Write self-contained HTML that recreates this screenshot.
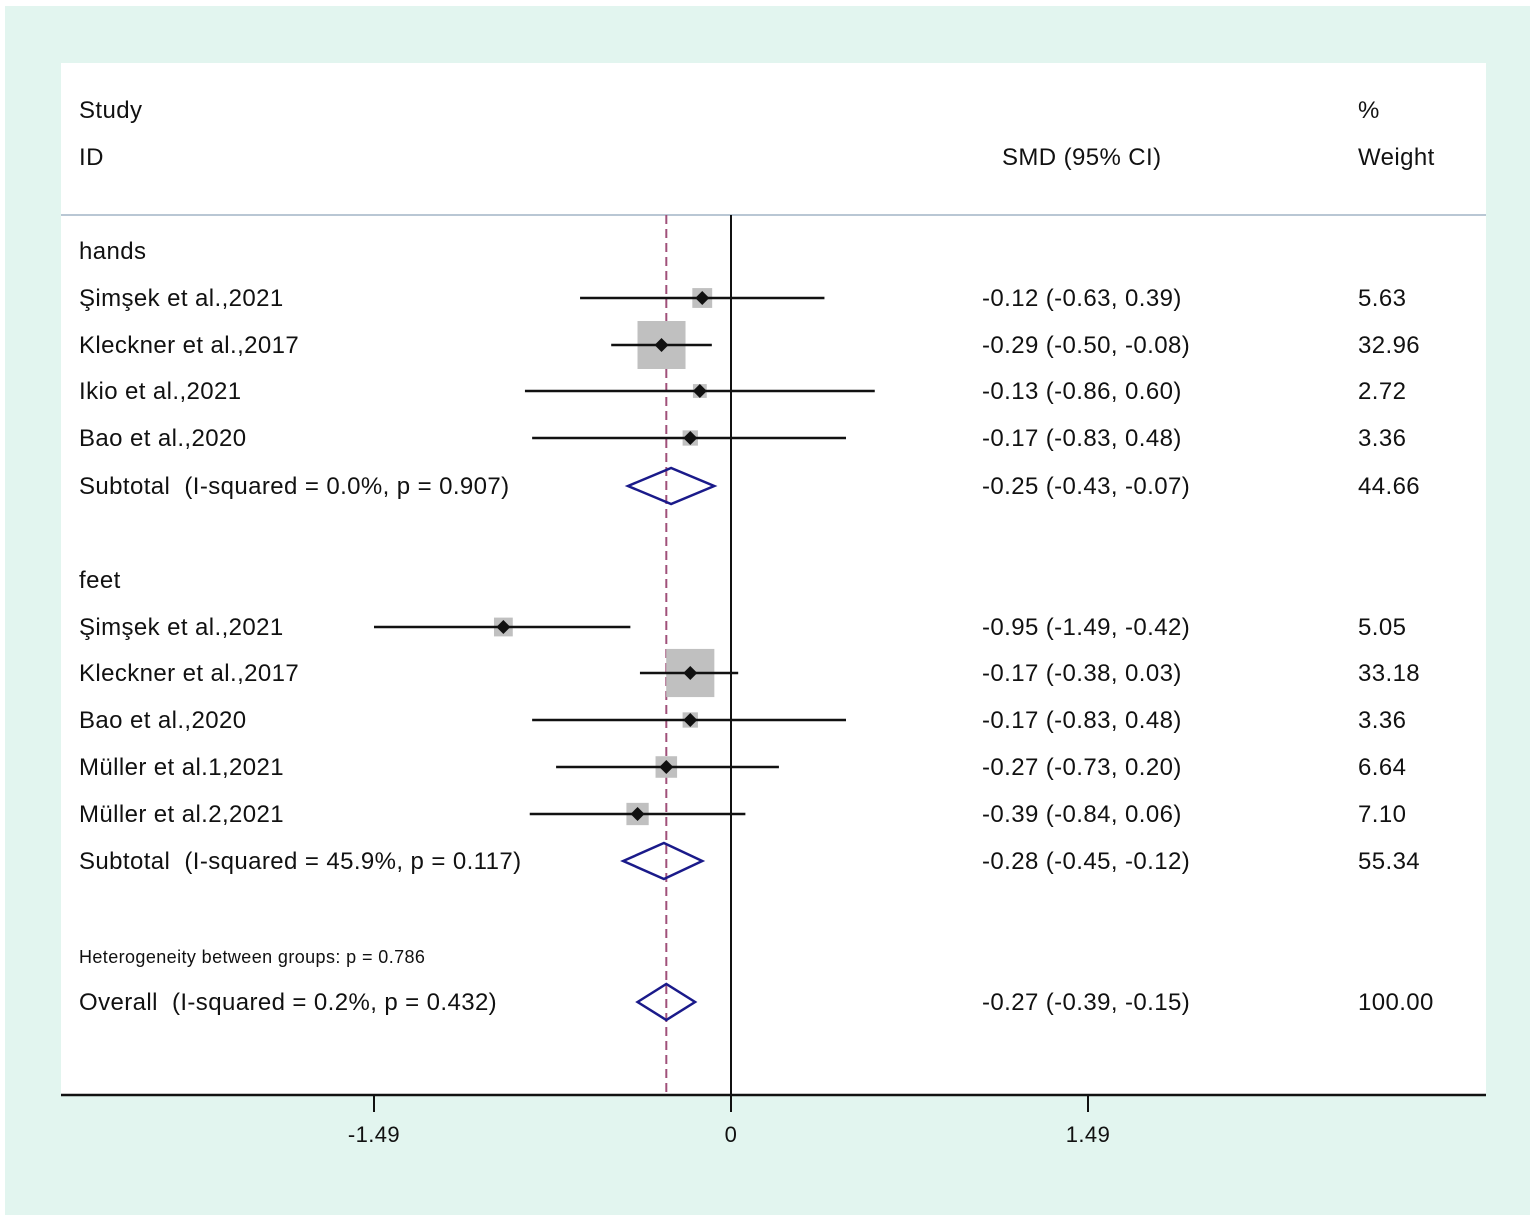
<!DOCTYPE html>
<html><head><meta charset="utf-8"><style>
body{margin:0;background:#fff}
svg{display:block}
text{font-family:"Liberation Sans",sans-serif;fill:#111;white-space:pre;letter-spacing:0.4px}
</style></head><body>
<svg width="1535" height="1222">
<rect x="5" y="6" width="1525" height="1209" fill="#e2f5ef"/>
<rect x="61" y="63" width="1425" height="1032" fill="#fff"/>
<line x1="61" y1="215" x2="1486" y2="215" stroke="#b9c7d4" stroke-width="2"/>
<g font-size="24">
<text x="79" y="118">Study</text>
<text x="79" y="165">ID</text>
<text x="1002" y="165">SMD (95% CI)</text>
<text x="1358" y="118">%</text>
<text x="1358" y="165">Weight</text>
</g>
<g id="rows" font-size="24"></g>
<g id="marks"></g>
<line x1="61" y1="1095" x2="1486" y2="1095" stroke="#111" stroke-width="2.5"/>
<g id="ticks" font-size="22"></g>
</svg>
<script>
const X0=731, PX=239.6;
const xs=v=>X0+v*PX;
const labels=["hands","Şimşek et al.,2021","Kleckner et al.,2017","Ikio et al.,2021","Bao et al.,2020","Subtotal  (I-squared = 0.0%, p = 0.907)","feet","Şimşek et al.,2021","Kleckner et al.,2017","Bao et al.,2020","Müller et al.1,2021","Müller et al.2,2021","Subtotal  (I-squared = 45.9%, p = 0.117)","Heterogeneity between groups: p = 0.786","Overall  (I-squared = 0.2%, p = 0.432)"];
const rowY=[251,298,345,391,438,486,580,627,673,720,767,814,861,955,1002];
const kind=["head","s","s","s","s","d","head","s","s","s","s","s","d","note","d"];
const est=[null,-0.12,-0.29,-0.13,-0.17,-0.25,null,-0.95,-0.17,-0.17,-0.27,-0.39,-0.28,null,-0.27];
const lo=[null,-0.63,-0.50,-0.86,-0.83,-0.43,null,-1.49,-0.38,-0.83,-0.73,-0.84,-0.45,null,-0.39];
const hi=[null,0.39,-0.08,0.60,0.48,-0.07,null,-0.42,0.03,0.48,0.20,0.06,-0.12,null,-0.15];
const weights=[null,5.63,32.96,2.72,3.36,44.66,null,5.05,33.18,3.36,6.64,7.10,55.34,null,100.00];
const ticks=[-1.49,0,1.49];
const overall=-0.27;
const NS="http://www.w3.org/2000/svg";
function mk(tag,attrs,parent){const e=document.createElementNS(NS,tag);for(const k in attrs)e.setAttribute(k,attrs[k]);document.getElementById(parent).appendChild(e);return e;}
const fmt=v=>v.toFixed(2);
let l=mk('line',{x1:xs(overall),x2:xs(overall),y1:215,y2:1095,stroke:'#a0507a','stroke-width':2,'stroke-dasharray':'9,5'},'marks');


l=mk('line',{x1:xs(0),x2:xs(0),y1:215,y2:1095,stroke:'#111','stroke-width':2},'marks');


labels.forEach((t,i)=>{
 const y=rowY[i];
 const tx=mk('text',{x:79,y:y+8,'font-size':kind[i]==='note'?18:24},'rows');
 tx.textContent=t;
 
 
 if(est[i]===null)return;
 const ci=mk('text',{x:982,y:y+8},'rows');
 ci.textContent=fmt(est[i])+" ("+fmt(lo[i])+", "+fmt(hi[i])+")";
 
 
 const w=mk('text',{x:1358,y:y+8},'rows');
 w.textContent=fmt(weights[i]);
 
 
 if(kind[i]==='s'){
  const s=48*Math.sqrt(weights[i]/32.96);
  const b=mk('rect',{x:xs(est[i])-s/2,y:y-s/2,width:s,height:s,fill:'#c0c0c0'},'marks');
  
  
  const ln=mk('line',{x1:xs(lo[i]),x2:xs(hi[i]),y1:y,y2:y,stroke:'#111','stroke-width':2.5},'marks');
  
  
  const d=mk('polygon',{points:`${xs(est[i])-7},${y} ${xs(est[i])},${y-7} ${xs(est[i])+7},${y} ${xs(est[i])},${y+7}`,fill:'#111'},'marks');
  
  
 } else {
  const d=mk('polygon',{points:`${xs(lo[i])},${y} ${xs(est[i])},${y-18} ${xs(hi[i])},${y} ${xs(est[i])},${y+18}`,fill:'none',stroke:'#1a1a8a','stroke-width':2.5},'marks');
  
  
 }
});
ticks.forEach(v=>{
 const t=mk('line',{x1:xs(v),x2:xs(v),y1:1095,y2:1112,stroke:'#111','stroke-width':2},'ticks');
 
 
 const tx=mk('text',{x:xs(v),y:1142,'text-anchor':'middle'},'ticks');
 tx.textContent=v===0?"0":fmt(v);
 
 
});
</script>
</body></html>
